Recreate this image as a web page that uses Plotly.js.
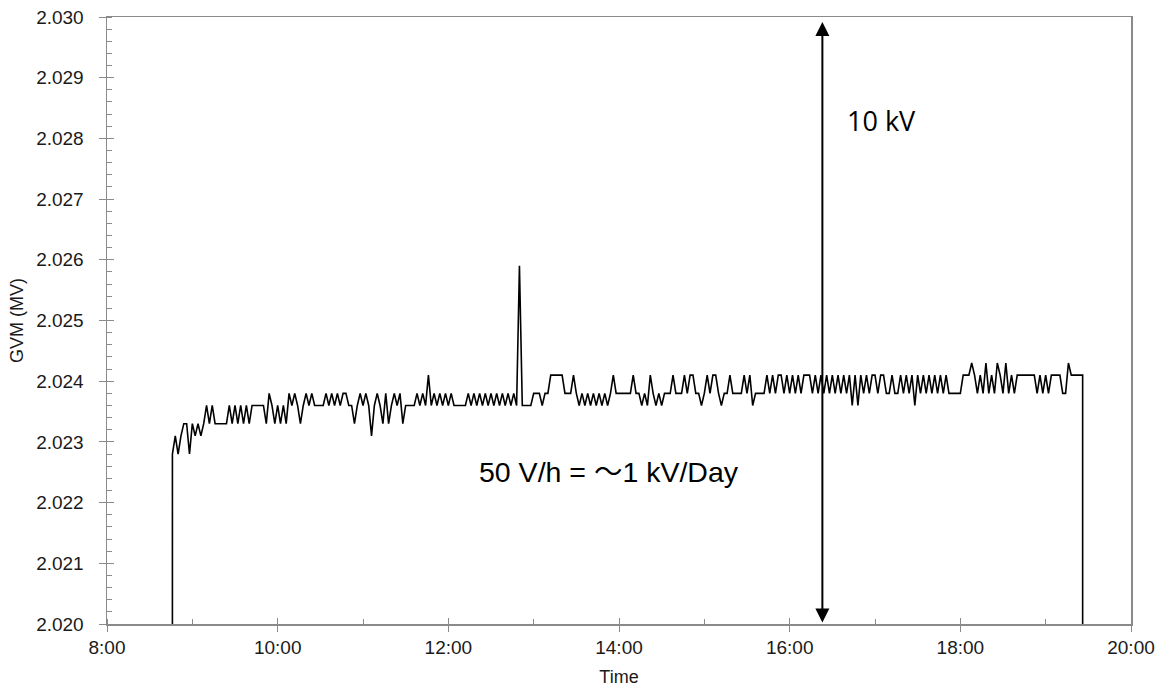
<!DOCTYPE html>
<html>
<head>
<meta charset="utf-8">
<script src="https://cdn.plot.ly/plotly-3.0.1.min.js"></script>
<style>
  html, body { margin: 0; padding: 0; background: #fff; }
  #chart { width: 1166px; height: 693px; }
</style>
</head>
<body>
<div id="chart"></div>
<script>
// GVM readings (MV), one value every 2 minutes, starting 08:44; 0 = instrument off (below axis)
const h08 = [0, 2.0228, 2.0231, 2.0228, 2.0231, 2.0233, 2.0233, 2.0228];
const h09 = [2.0233,2.0231,2.0233,2.0231,2.0233, 2.0236,2.0233,2.0236,2.0233, 2.0233,2.0233,2.0233,2.0233,
             2.0236,2.0233,2.0236,2.0233,2.0236,2.0233,2.0236,2.0233,2.0236, 2.0236,2.0236,2.0236,2.0236,
             2.0233,2.0238,2.0236,2.0233];
const h10 = [2.0236,2.0233,2.0236,2.0233,2.0238,2.0236,2.0238,2.0236,2.0233,2.0236,
             2.0238,2.0236,2.0238,2.0236,2.0236,2.0236,2.0236,2.0238,2.0236,2.0238,
             2.0236,2.0238,2.0236,2.0238,2.0238,2.0236,2.0236,2.0233,2.0236,2.0238];
const h11 = [2.0236,2.0238,2.0236,2.0231,2.0236,2.0238,2.0236,2.0233,2.0238,2.0233,
             2.0236,2.0238,2.0236,2.0238,2.0233,2.0236,2.0236,2.0236,2.0236,2.0238,
             2.0236,2.0238,2.0236,2.0241,2.0236,2.0238,2.0236,2.0238,2.0236,2.0238];
const h12 = [2.0236,2.0238,2.0236,2.0236,2.0236,2.0236,2.0236,2.0238,2.0236,2.0238,
             2.0236,2.0238,2.0236,2.0238,2.0236,2.0238,2.0236,2.0238,2.0236,2.0238,
             2.0236,2.0238,2.0236,2.0238,2.0236,2.0259,2.0236,2.0236,2.0236,2.0236];
const h13 = [2.0238,2.0238,2.0238,2.0236,2.0238,2.0238,2.0241,2.0241,2.0241,2.0241,
             2.0241,2.0238,2.0238,2.0238,2.0241,2.0238,2.0236,2.0238,2.0236,2.0238,
             2.0236,2.0238,2.0236,2.0238,2.0236,2.0238,2.0236,2.0238,2.0241,2.0238];
const h14 = [2.0238,2.0238,2.0238,2.0238,2.0238,2.0241,2.0238,2.0238,2.0236,2.0238,
             2.0236,2.0241,2.0238,2.0236,2.0238,2.0236,2.0238,2.0238,2.0238,2.0241,
             2.0238,2.0238,2.0238,2.0241,2.0238,2.0241,2.0241,2.0238,2.0238,2.0236];
const h15 = [2.0238,2.0241,2.0238,2.0241,2.0241,2.0238,2.0236,2.0238,2.0238,2.0241,
             2.0238,2.0238,2.0238,2.0238,2.0241,2.0238,2.0241,2.0236,2.0238,2.0238,
             2.0238,2.0238,2.0241,2.0238,2.0241,2.0238,2.0241,2.0241,2.0238,2.0241];
const h16 = [2.0238,2.0241,2.0238,2.0241,2.0238,2.0241,2.0241,2.0241,2.0238,2.0241,
             2.0238,2.0241,2.0238,2.0241,2.0238,2.0241,2.0238,2.0241,2.0238,2.0241,
             2.0238,2.0241,2.0236,2.0241,2.0236,2.0241,2.0238,2.0241,2.0238,2.0241];
const h17 = [2.0241,2.0238,2.0241,2.0241,2.0238,2.0238,2.0241,2.0238,2.0238,2.0241,
             2.0238,2.0241,2.0238,2.0241,2.0236,2.0241,2.0238,2.0241,2.0238,2.0241,
             2.0238,2.0241,2.0238,2.0241,2.0238,2.0241,2.0238,2.0238,2.0238,2.0238];
const h18 = [2.0238,2.0241,2.0241,2.0241,2.0243,2.0241,2.0238,2.0241,2.0238,2.0243,
             2.0238,2.0241,2.0238,2.0243,2.0241,2.0238,2.0243,2.0238,2.0241,2.0238,
             2.0241,2.0241,2.0241,2.0241,2.0241,2.0241,2.0241,2.0238,2.0241,2.0238];
const h19 = [2.0241,2.0238,2.0241,2.0241,2.0241,2.0241,2.0238,2.0238,2.0243,2.0241,
             2.0241,2.0241,2.0241,2.0241,0];

const startTime = '08:44';
const stepMinutes = 2;
const day = '2000-01-01 ';

const xRange = ['08:00', '20:00'];
const yRange = [2.020, 2.030];
const xTickLabels = ['8:00', '10:00', '12:00', '14:00', '16:00', '18:00', '20:00'];
const xTickTimes = ['08:00', '10:00', '12:00', '14:00', '16:00', '18:00', '20:00'];
const yTicks = [2.020, 2.021, 2.022, 2.023, 2.024, 2.025, 2.026, 2.027, 2.028, 2.029, 2.030];

const arrowTime = '16:23';
const arrowSpan = [2.020, 2.030];
const arrowLabel = '10 kV';
const arrowLabelPos = ['16:39', 2.0283];
const rateLabel = '50 V/h = <span style="font-family:\'Noto Sans CJK JP\'">\uFF5E</span>1 kV/Day';
const rateLabelPos = ['12:20', 2.02254];

const pad = n => String(n).padStart(2, '0');
const gvm = [].concat(h08, h09, h10, h11, h12, h13, h14, h15, h16, h17, h18, h19);
const [sh, sm] = startTime.split(':').map(Number);
const times = gvm.map((_, i) => {
  const m = sh * 60 + sm + i * stepMinutes;
  return day + pad(Math.floor(m / 60)) + ':' + pad(m % 60);
});

const axisColor = '#8a8a8a';
const textColor = '#1a1a1a';
const FONT = 'Liberation Sans, Arial, sans-serif';

const traces = [
  { x: times, y: gvm, type: 'scatter', mode: 'lines',
    line: { color: '#000', width: 1.6 }, hoverinfo: 'x+y', showlegend: false },
  { x: [], y: [], xaxis: 'x2', yaxis: 'y2', type: 'scatter', showlegend: false }
];

const layout = {
  width: 1166, height: 693,
  margin: { l: 107, r: 35, t: 17, b: 69 },
  paper_bgcolor: '#fff', plot_bgcolor: '#fff',
  font: { family: FONT, size: 19, color: textColor },
  showlegend: false,
  xaxis: {
    type: 'date',
    range: xRange.map(t => day + t),
    tickvals: xTickTimes.map(t => day + t),
    ticktext: xTickLabels,
    ticks: 'outside', ticklen: 6, tickwidth: 1, tickcolor: axisColor,
    minor: { dtick: 3600000, ticks: 'inside', ticklen: 5, tickcolor: axisColor, tickwidth: 1, showgrid: false },
    showline: true, linecolor: axisColor, linewidth: 1.5, mirror: true,
    showgrid: false, zeroline: false,
    ticklabelstandoff: 0,
    tickfont: { family: FONT, size: 19, color: textColor },
    title: { text: 'Time', font: { family: FONT, size: 18, color: textColor }, standoff: 13 }
  },
  yaxis: {
    range: yRange,
    tickvals: yTicks,
    tickformat: '.3f',
    ticks: 'outside', ticklen: 7, tickwidth: 1, tickcolor: axisColor,
    minor: { dtick: 0.0002, ticks: 'inside', ticklen: 5, tickcolor: axisColor, tickwidth: 1, showgrid: false },
    showline: true, linecolor: axisColor, linewidth: 1.5, mirror: true,
    showgrid: false, zeroline: false,
    ticklabelstandoff: 11,
    tickfont: { family: FONT, size: 19, color: textColor },
    title: { text: 'GVM (MV)', font: { family: FONT, size: 18, color: textColor }, standoff: 8 }
  },
  xaxis2: {
    type: 'date', overlaying: 'x', anchor: 'y2',
    range: xRange.map(t => day + t),
    tickvals: xTickTimes.map(t => day + t),
    ticks: 'inside', ticklen: 6, tickcolor: axisColor, tickwidth: 1,
    showticklabels: false, showgrid: false, zeroline: false, showline: false
  },
  yaxis2: {
    overlaying: 'y', anchor: 'x2',
    range: yRange, tickvals: yTicks,
    ticks: 'inside', ticklen: 7, tickcolor: axisColor, tickwidth: 1,
    showticklabels: false, showgrid: false, zeroline: false, showline: false
  },
  annotations: [
    { xref: 'x', yref: 'y', axref: 'x', ayref: 'y',
      x: day + arrowTime, y: arrowSpan[1], ax: day + arrowTime, ay: arrowSpan[0],
      text: '', showarrow: true, arrowside: 'end+start',
      arrowhead: 2, startarrowhead: 2, arrowsize: 1.4, startarrowsize: 1.4,
      arrowwidth: 2, arrowcolor: '#000', standoff: 5, startstandoff: 0 },
    { xref: 'x', yref: 'y', x: day + arrowLabelPos[0], y: arrowLabelPos[1],
      xanchor: 'left', yanchor: 'middle', showarrow: false, text: arrowLabel,
      font: { family: 'Open Sans, Liberation Sans, sans-serif', size: 27, color: '#000' } },
    { xref: 'x', yref: 'y', x: day + rateLabelPos[0], y: rateLabelPos[1],
      xanchor: 'left', yanchor: 'middle', showarrow: false, text: rateLabel,
      font: { family: FONT, size: 28.5, color: '#000' } }
  ]
};

Plotly.newPlot('chart', traces, layout, { displayModeBar: false, staticPlot: true });
</script>
</body>
</html>
